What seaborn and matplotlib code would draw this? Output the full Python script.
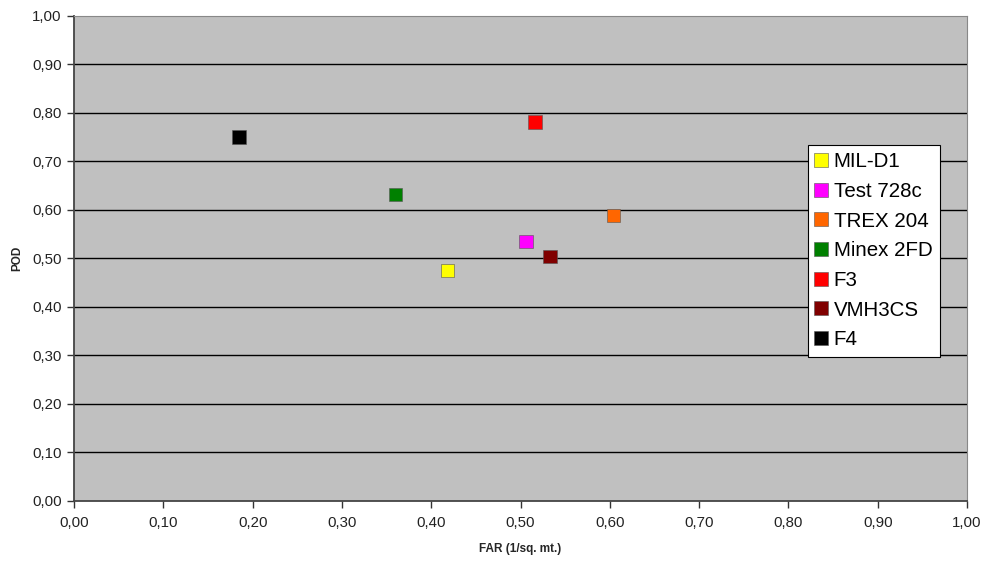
#!/usr/bin/env python3

import seaborn as sns
import matplotlib.pyplot as plt
import matplotlib.ticker as mticker
import pandas as pd

# data
labels = ['MIL-D1', 'Test 728c', 'TREX 204', 'Minex 2FD', 'F3', 'VMH3CS', 'F4']
far = [0.418, 0.506, 0.604, 0.360, 0.516, 0.533, 0.185]
pod = [0.475, 0.535, 0.589, 0.632, 0.781, 0.504, 0.750]
marker_colors = ['#FFFF00', '#FF00FF', '#FF6600', '#008000', '#FF0000', '#800000', '#000000']

df = pd.DataFrame({'detector': labels, 'FAR': far, 'POD': pod})

sns.set_style('white')
plt.rcParams['font.family'] = ['Liberation Sans', 'DejaVu Sans']
plt.rcParams['text.color'] = 'black'

fig = plt.figure(figsize=(9.83, 5.61), dpi=100)
ax = fig.add_axes([0.0753, 0.107, 0.9085, 0.8645])
ax.set_facecolor('#C0C0C0')

# grid lines
for yv in [0.1 * i for i in range(1, 10)]:
    ax.axhline(yv, color='black', linewidth=1, zorder=1)

sns.scatterplot(data=df, x='FAR', y='POD', hue='detector', hue_order=labels,
                palette=marker_colors, marker='s', s=95, edgecolor='#555555',
                linewidth=0.4, ax=ax, zorder=3)

ax.set_xlim(0, 1)
ax.set_ylim(0, 1)
ax.xaxis.set_major_locator(mticker.MultipleLocator(0.1))
ax.yaxis.set_major_locator(mticker.MultipleLocator(0.1))
fmt = mticker.FuncFormatter(lambda v, p: f'{v:.2f}'.replace('.', ','))
ax.xaxis.set_major_formatter(fmt)
ax.yaxis.set_major_formatter(fmt)
ax.tick_params(axis='both', direction='out', length=5, width=1, color='#333333',
               labelsize=10.8, labelcolor='#222222', pad=4)
ax.tick_params(axis='x', bottom=True, pad=6)
ax.tick_params(axis='y', left=True)

for side in ['left', 'bottom']:
    ax.spines[side].set_color('#444444')
    ax.spines[side].set_linewidth(1.3)
for side in ['top', 'right']:
    ax.spines[side].set_color('#888888')
    ax.spines[side].set_linewidth(0.8)

ax.set_xlabel('FAR (1/sq. mt.)', fontsize=8.5, fontweight='bold', labelpad=9)
ax.set_ylabel('POD', fontsize=8.5, fontweight='bold', labelpad=6)

handles, _ = ax.get_legend_handles_labels()
leg = ax.legend(handles=handles, labels=labels, loc='upper left',
                bbox_to_anchor=(0.822, 0.734), fontsize=14.8, frameon=True,
                fancybox=False, framealpha=1, edgecolor='black',
                borderpad=0.35, labelspacing=0.52, handlelength=0.55,
                handletextpad=0.35, borderaxespad=0, markerscale=1.0)
leg.get_frame().set_linewidth(0.8)
for t in leg.get_texts():
    t.set_color('black')

plt.savefig('out.png', dpi=100)
